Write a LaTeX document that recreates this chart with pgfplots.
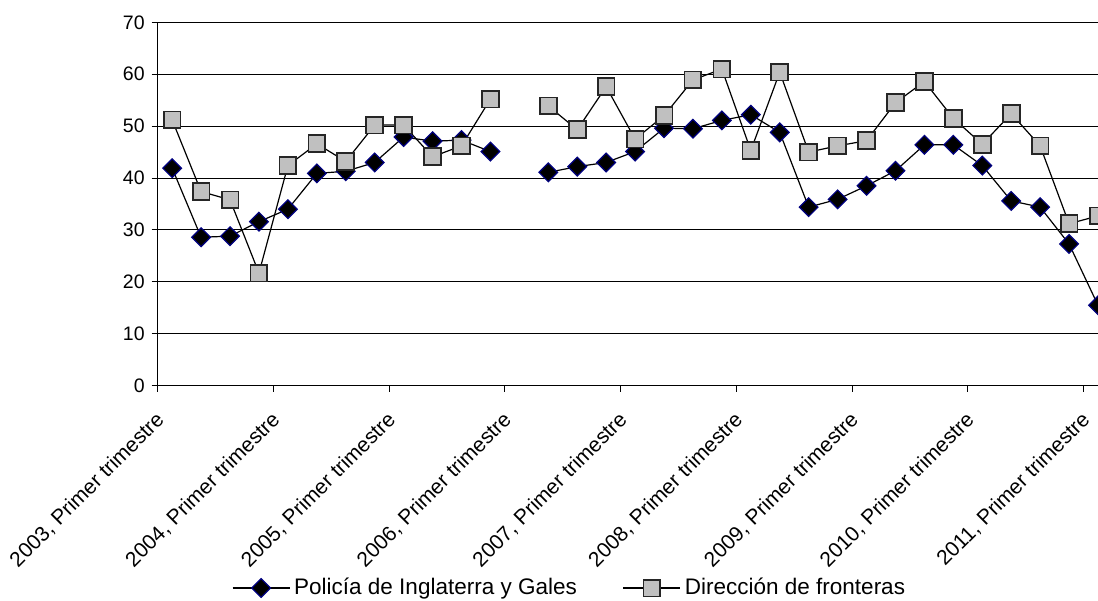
\documentclass[border=0pt]{standalone}
\usepackage{pgfplots}
\pgfplotsset{compat=1.18}
\usepackage{pgfplotstable}
\usepackage{fontspec}
\setmainfont{Liberation Sans}
\usetikzlibrary{calc}
\definecolor{polnavy}{RGB}{0,0,128}
\definecolor{dirgray}{RGB}{192,192,192}

% quarters 2003 Q1 (0) ... 2011 Q1 (32); 12 = gap
\pgfplotstableread{
q  pol   dir
0  41.9  51.2
1  28.6  37.4
2  28.8  35.8
3  31.6  21.7
4  34.0  42.4
5  40.9  46.6
6  41.3  43.2
7  43.0  50.2
8  47.9  50.2
9  47.1  44.1
10 47.3  46.2
11 45.1  55.2
12 nan   nan
13 41.1  53.9
14 42.2  49.3
15 43.0  57.6
16 45.1  47.5
17 49.6  52.0
18 49.5  58.9
19 51.1  61.0
20 52.2  45.3
21 48.8  60.4
22 34.4  45.0
23 35.9  46.2
24 38.5  47.2
25 41.4  54.5
26 46.4  58.6
27 46.4  51.5
28 42.4  46.5
29 35.6  52.4
30 34.4  46.2
31 27.3  31.2
32 15.5  32.7
}\datatable

\begin{document}
\begin{tikzpicture}
\begin{axis}[
    name=ax,
    scale only axis,
    width=470.15pt, height=181.7pt,
    xmin=-0.5, xmax=32,
    ymin=0, ymax=70,
    ytick={0,10,...,70},
    xtick={-0.5,3.5,...,31.5},
    xticklabels={{2003, Primer trimestre},{2004, Primer trimestre},{2005, Primer trimestre},
                 {2006, Primer trimestre},{2007, Primer trimestre},{2008, Primer trimestre},
                 {2009, Primer trimestre},{2010, Primer trimestre},{2011, Primer trimestre}},
    axis lines=left,
    axis line style={-, black, line width=0.5pt},
    ymajorgrids,
    grid style={black, line width=0.5pt},
    tick align=outside,
    major tick length=3pt,
    tick style={black, line width=0.5pt},
    yticklabel style={font=\fontsize{9.75}{11}\selectfont,
                      /pgf/number format/assume math mode=true},
    xticklabel style={font=\fontsize{10.5}{12}\selectfont,
                      xshift=4pt, yshift=-10pt, rotate=45, anchor=east},
    unbounded coords=jump,
    legend columns=2,
    legend style={draw=none, fill=none, font=\fontsize{11.25}{13}\selectfont,
                  at={(0.0787,-0.5567)}, anchor=west, inner sep=0pt,
                  /tikz/every even column/.append style={column sep=21pt}},
    legend image code/.code={\draw[mark repeat=2,mark phase=2]
        plot coordinates {(0cm,0cm)(0.5cm,0cm)(1cm,0cm)};},
]
\addplot[black, line width=0.6pt, mark=square*, mark size=3.3pt,
    mark options={rotate=45, fill=black, draw=polnavy, line width=0.6pt}]
    table[x=q, y=pol]{\datatable};
\addlegendentry{Policía de Inglaterra y Gales}
\addplot[black, line width=0.6pt, mark=square*, mark size=4.2pt,
    mark options={fill=dirgray, draw=black!85, line width=0.9pt}]
    table[x=q, y=dir]{\datatable};
\addlegendentry{Dirección de fronteras}
\end{axis}
\pgfresetboundingbox
\path[use as bounding box] ($(ax.south west)+(-78.85pt,-107.15pt)$) rectangle ($(ax.north east)+(0pt,11.15pt)$);
\end{tikzpicture}
\end{document}
